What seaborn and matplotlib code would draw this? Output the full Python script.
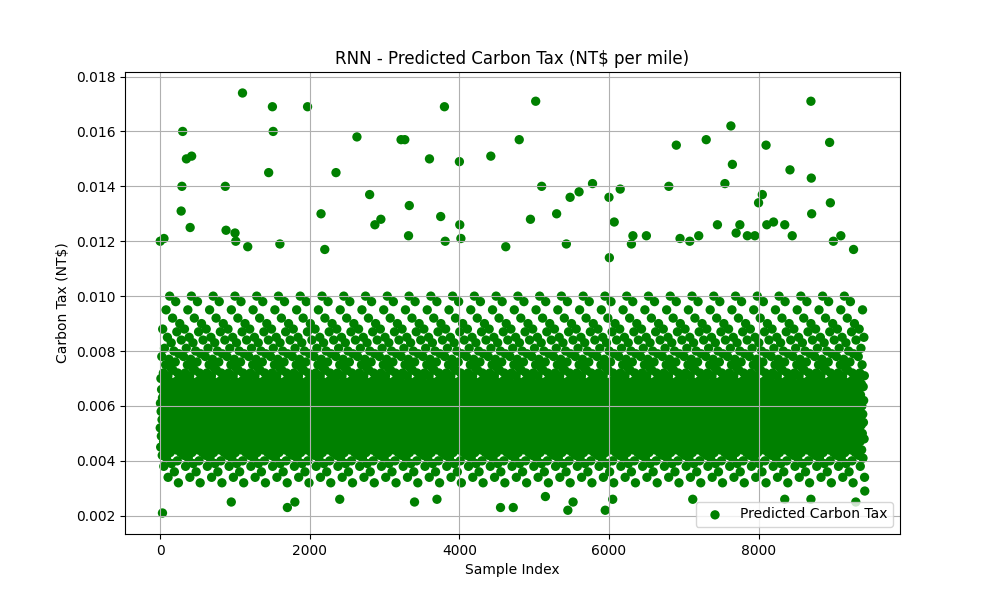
import matplotlib
matplotlib.use("Agg")
import matplotlib.pyplot as plt
import seaborn as sns
import pandas as pd

# Outlier points
high_idx = [0,50,300,290,280,350,420,400,870,880,1000,1010,1100,1170,1450,1500,1510,1600,1970,2150,2200,2350,2630,2800,2870,2950,3220,3270,3330,3320,3600,3750,3800,3810,4000,4005,4020,4420,4620,4800,4950,5020,5100,5300,5430,5480,5600,5780,6000,6005,6070,6150,6300,6320,6500,6800,6900,6950,7080,7200,7300,7450,7550,7630,7650,7700,7750,7850,7950,8000,8050,8100,8110,8200,8350,8420,8450,8700,8705,8710,8950,8960,9000,9100,9270]
high_val = [0.0120,0.0121,0.0160,0.0140,0.0131,0.0150,0.0151,0.0125,0.0140,0.0124,0.0123,0.0120,0.0174,0.0118,0.0145,0.0169,0.0160,0.0119,0.0169,0.0130,0.0117,0.0145,0.0158,0.0137,0.0126,0.0128,0.0157,0.0157,0.0133,0.0122,0.0150,0.0129,0.0169,0.0120,0.0149,0.0126,0.0121,0.0151,0.0118,0.0157,0.0128,0.0171,0.0140,0.0130,0.0119,0.0136,0.0138,0.0141,0.0136,0.0114,0.0127,0.0139,0.0119,0.0122,0.0122,0.0140,0.0155,0.0121,0.0120,0.0122,0.0157,0.0126,0.0141,0.0162,0.0148,0.0123,0.0126,0.0122,0.0122,0.0134,0.0137,0.0155,0.0126,0.0127,0.0126,0.0146,0.0122,0.0171,0.0143,0.0130,0.0156,0.0134,0.0120,0.0122,0.0117]
low_idx = [30,1700,1800,950,3400,3700,4550,4720,5150,5450,5520,5950,6050,7120,8350,8700,9300,9420,2400]
low_val = [0.0021,0.0023,0.0025,0.0025,0.0025,0.0026,0.0023,0.0023,0.0027,0.0022,0.0025,0.0022,0.0026,0.0026,0.0026,0.0026,0.0025,0.0029,0.0026]

# Typical values of the dense band (hand-estimated), cycled across the index range
band_levels = [0.0052,0.0061,0.0045,0.0070,0.0058,0.0049,0.0066,0.0078,0.0055,0.0042,
               0.0063,0.0088,0.0051,0.0059,0.0072,0.0047,0.0038,0.0064,0.0056,0.0081,
               0.0053,0.0068,0.0044,0.0060,0.0075,0.0050,0.0095,0.0057,0.0041,0.0067,
               0.0054,0.0062,0.0085,0.0048,0.0071,0.0034,0.0059,0.0065,0.0046,0.0077,
               0.0052,0.0069,0.0100,0.0056,0.0043,0.0063,0.0074,0.0050,0.0058,0.0083,
               0.0039,0.0061,0.0055,0.0067,0.0047,0.0092,0.0053,0.0073,0.0060,0.0045,
               0.0066,0.0080,0.0051,0.0036,0.0057,0.0064,0.0049,0.0076,0.0054,0.0098,
               0.0062,0.0044,0.0069,0.0058,0.0087,0.0052,0.0040,0.0065,0.0072,0.0048,
               0.0056,0.0032,0.0061,0.0079,0.0050,0.0068,0.0046,0.0090,0.0059,0.0053,
               0.0063,0.0043,0.0071,0.0055,0.0084,0.0047,0.0066]
n_samples = 9420
band_step = 3

band_idx = list(range(0, n_samples, band_step))
band_val = [band_levels[i % len(band_levels)] for i in range(len(band_idx))]

df = pd.DataFrame({
    "Sample Index": band_idx + high_idx + low_idx,
    "Carbon Tax": band_val + high_val + low_val,
})

fig, ax = plt.subplots(figsize=(10, 6), dpi=100)
sns.scatterplot(data=df, x="Sample Index", y="Carbon Tax", color="green",
                s=45, edgecolor="none", linewidth=0, ax=ax,
                label="Predicted Carbon Tax")
ax.set_title("RNN - Predicted Carbon Tax (NT$ per mile)")
ax.set_xlabel("Sample Index")
ax.set_ylabel("Carbon Tax (NT$)")
ax.grid(True)
ax.legend(loc="lower right")
fig.savefig("out.png")
